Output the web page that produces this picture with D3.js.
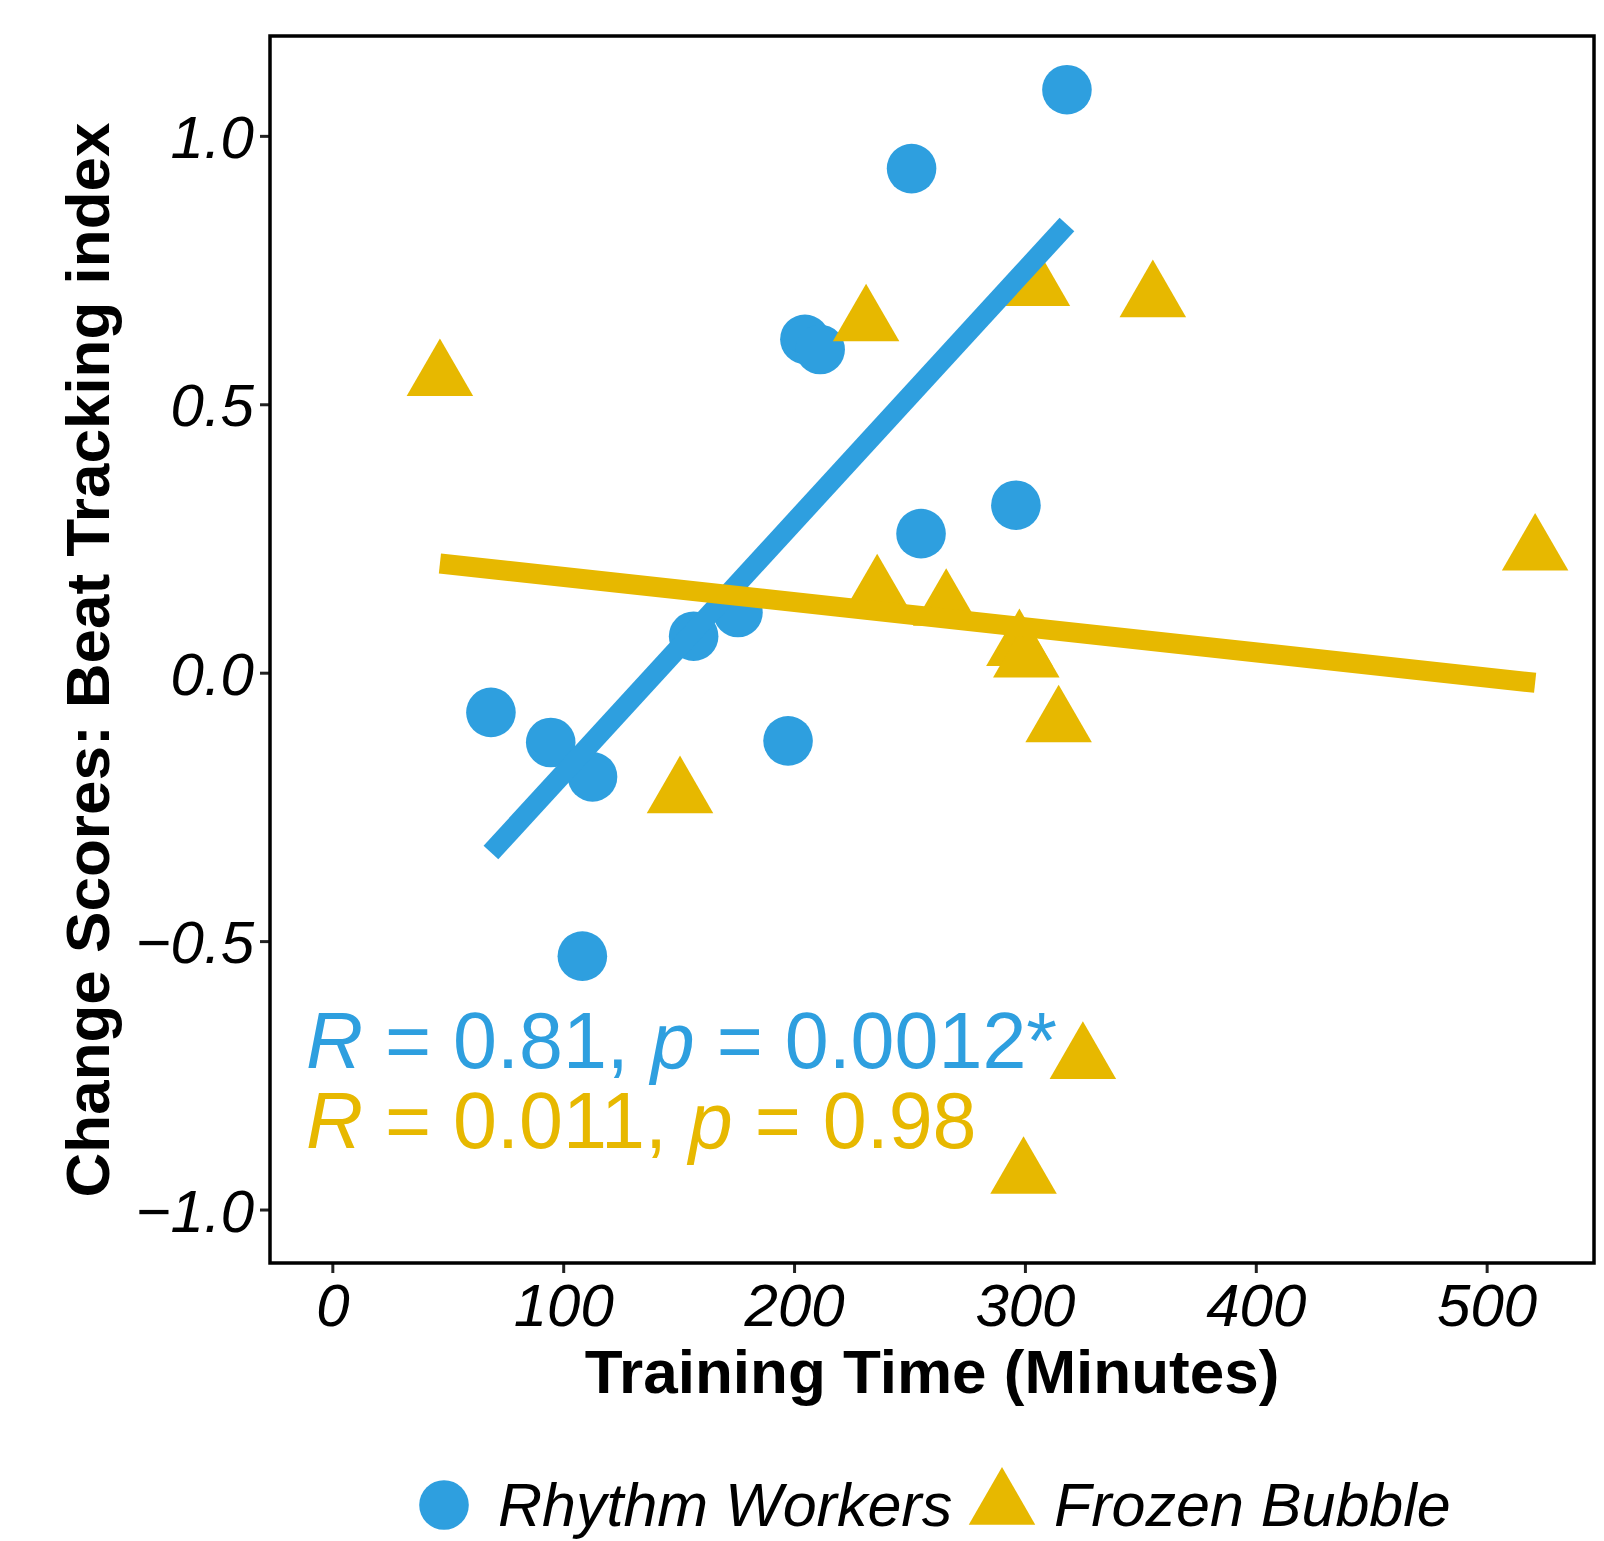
<!DOCTYPE html>
<html>
<head>
<meta charset="utf-8">
<script src="https://cdn.jsdelivr.net/npm/d3@7"></script>
<style>
  html, body { margin: 0; padding: 0; background: #fff; }
  svg text { font-family: "Liberation Sans", Arial, Helvetica, sans-serif; }
</style>
</head>
<body>
<div id="chart"></div>
<script>
// values
const groups = ["Rhythm Workers", "Frozen Bubble"];
const groupColors = ["#2E9FDF", "#E7B800"];

const rhythmMinutes = [318.2, 250.9, 204.7, 211.3, 296.1, 255.0, 175.7, 156.5, 68.7, 94.6, 112.7, 197.4, 108.3];
const rhythmChange  = [1.086, 0.939, 0.621, 0.602, 0.312, 0.259, 0.112, 0.068, -0.074, -0.130, -0.194, -0.127, -0.528];

const frozenMinutes = [46.6, 231.2, 305.2, 355.4, 521.0, 236.0, 265.9, 297.6, 300.6, 314.6, 150.6, 325.1, 299.4];
const frozenChange  = [0.551, 0.653, 0.719, 0.698, 0.226, 0.150, 0.123, 0.048, 0.027, -0.094, -0.226, -0.721, -0.935];

const xTicks = [0, 100, 200, 300, 400, 500];
const yTicks = [-1.0, -0.5, 0.0, 0.5, 1.0];

const statLabels = [
  { r: "0.81", p: "0.0012*" },
  { r: "0.011", p: "0.98" }
];

const width = 1604;
const height = 1541;
const margin = { top: 36, right: 10, bottom: 278, left: 270 };

const x = d3.scaleLinear()
  .domain([-27, 546.5])
  .range([margin.left, width - margin.right]);

const y = d3.scaleLinear()
  .domain([-1.0996, 1.186])
  .range([height - margin.bottom, margin.top]);

const svg = d3.select("#chart")
  .append("svg")
  .attr("width", width)
  .attr("height", height);

// least squares fit, drawn over the x range of each group
function fit(xs, ys) {
  const mx = d3.mean(xs), my = d3.mean(ys);
  let sxy = 0, sxx = 0;
  xs.forEach((v, i) => { sxy += (v - mx) * (ys[i] - my); sxx += (v - mx) * (v - mx); });
  const slope = sxy / sxx;
  const x0 = d3.min(xs), x1 = d3.max(xs);
  return [[x0, my + slope * (x0 - mx)], [x1, my + slope * (x1 - mx)]];
}

const series = [
  { name: groups[0], color: groupColors[0], shape: "circle",
    points: rhythmMinutes.map((m, i) => [m, rhythmChange[i]]) },
  { name: groups[1], color: groupColors[1], shape: "triangle",
    points: frozenMinutes.map((m, i) => [m, frozenChange[i]]) }
];

const triR = 38.4;
const circR = 24.8;
function triangle(cx, cy, r) {
  const hw = r * Math.sqrt(3) / 2;
  return `M${cx},${cy - r}L${cx + hw},${cy + r / 2}L${cx - hw},${cy + r / 2}Z`;
}

// points
series.forEach(s => {
  if (s.shape === "circle") {
    svg.append("g").selectAll("circle")
      .data(s.points)
      .enter()
      .append("circle")
      .attr("cx", d => x(d[0]))
      .attr("cy", d => y(d[1]))
      .attr("r", circR)
      .attr("fill", s.color);
  } else {
    svg.append("g").selectAll("path")
      .data(s.points)
      .enter()
      .append("path")
      .attr("d", d => triangle(x(d[0]), y(d[1]), triR))
      .attr("fill", s.color);
  }
});

// regression lines (yellow on top, as in the figure)
const line = d3.line().x(d => x(d[0])).y(d => y(d[1]));
svg.append("path")
  .attr("d", line(fit(rhythmMinutes, rhythmChange)))
  .attr("stroke", groupColors[0])
  .attr("stroke-width", 20)
  .attr("fill", "none");
svg.append("path")
  .attr("d", line(fit(frozenMinutes, frozenChange)))
  .attr("stroke", groupColors[1])
  .attr("stroke-width", 20)
  .attr("fill", "none");

// correlation labels
statLabels.forEach((s, i) => {
  const t = svg.append("text")
    .attr("x", 306)
    .attr("y", 1068 + i * 80)
    .attr("font-size", 79)
    .attr("fill", groupColors[i])
    .attr("xml:space", "preserve");
  t.append("tspan").attr("font-style", "italic").text("R");
  t.append("tspan").text(" = " + s.r + ", ");
  t.append("tspan").attr("font-style", "italic").text("p");
  t.append("tspan").text(" = " + s.p);
});

// axes
const xAxis = svg.append("g")
  .attr("transform", `translate(0,${height - margin.bottom})`)
  .call(d3.axisBottom(x).tickValues(xTicks).tickSize(10).tickPadding(10));
const yAxis = svg.append("g")
  .attr("transform", `translate(${margin.left},0)`)
  .call(d3.axisLeft(y).tickValues(yTicks).tickSize(10).tickPadding(6)
    .tickFormat(d => d3.format(".1f")(d).replace("-", "\u2212")));

[xAxis, yAxis].forEach(a => {
  a.select(".domain").remove();
  a.selectAll(".tick line").attr("stroke", "#222").attr("stroke-width", 3);
  a.selectAll(".tick text")
    .attr("fill", "#000")
    .attr("font-size", 60)
    .attr("font-style", "italic")
    .style("font-family", '"Liberation Sans", Arial, sans-serif');
});
yAxis.selectAll(".tick text").attr("dy", "0.36em");

// panel border
svg.append("rect")
  .attr("x", margin.left)
  .attr("y", margin.top)
  .attr("width", width - margin.left - margin.right)
  .attr("height", height - margin.top - margin.bottom)
  .attr("fill", "none")
  .attr("stroke", "#000")
  .attr("stroke-width", 3.5);

// axis titles
svg.append("text")
  .attr("x", (margin.left + width - margin.right) / 2)
  .attr("y", 1393)
  .attr("text-anchor", "middle")
  .attr("font-size", 62)
  .attr("font-weight", "bold")
  .text("Training Time (Minutes)");

svg.append("text")
  .attr("transform", "translate(109,660) rotate(-90)")
  .attr("text-anchor", "middle")
  .attr("font-size", 62)
  .attr("font-weight", "bold")
  .text("Change Scores: Beat Tracking index");

// legend
const legend = svg.append("g");
legend.append("circle").attr("cx", 444).attr("cy", 1505).attr("r", circR).attr("fill", groupColors[0]);
legend.append("text").attr("x", 498).attr("y", 1526).attr("font-size", 61)
  .attr("font-style", "italic").text(groups[0]);
legend.append("path").attr("d", triangle(1002, 1505.5, triR)).attr("fill", groupColors[1]);
legend.append("text").attr("x", 1054).attr("y", 1526).attr("font-size", 61)
  .attr("font-style", "italic").text(groups[1]);
</script>
</body>
</html>
